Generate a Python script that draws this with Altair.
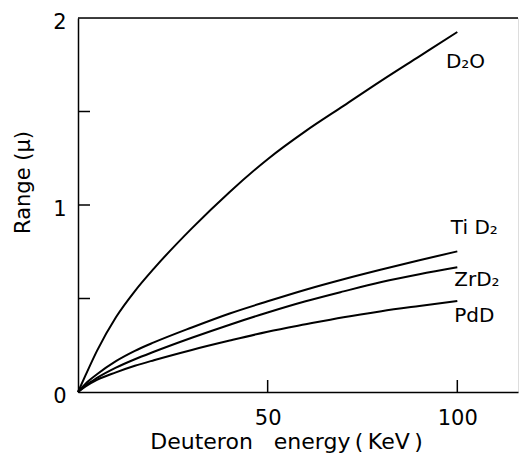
import altair as alt
import pandas as pd

energy = [0, 2, 5, 10, 15, 20, 30, 40, 50, 60, 70, 80, 90, 100]
d2o  = [0, 0.09, 0.22, 0.40, 0.54, 0.66, 0.875, 1.07, 1.245, 1.395, 1.53, 1.665, 1.795, 1.925]
tid2 = [0, 0.045, 0.095, 0.165, 0.22, 0.265, 0.345, 0.42, 0.485, 0.547, 0.603, 0.655, 0.705, 0.752]
zrd2 = [0, 0.035, 0.075, 0.13, 0.175, 0.215, 0.29, 0.36, 0.425, 0.485, 0.538, 0.588, 0.63, 0.667]
pdd  = [0, 0.03, 0.065, 0.105, 0.14, 0.17, 0.225, 0.275, 0.322, 0.362, 0.40, 0.432, 0.46, 0.487]

series_names = ["D2O", "TiD2", "ZrD2", "PdD"]
label_text = ["D\u2082O", "Ti D\u2082", "ZrD\u2082", "PdD"]
label_x = [97, 98.3, 99.2, 99.2]
label_y = [1.765, 0.877, 0.60, 0.406]

y_labels = [0, 1, 2]
y_label_text = ["0", "1", "2"]
y_ticks = [0.5, 1.0, 1.5]
x_ticks = [50, 100]

W, H = 440, 374
FONT = "DejaVu Sans"

rows = []
for name, vals in zip(series_names, [d2o, tid2, zrd2, pdd]):
    for e, v in zip(energy, vals):
        rows.append({"series": name, "energy": e, "range": v})
df = pd.DataFrame(rows)
labels_df = pd.DataFrame({"text": label_text, "x": label_x, "y": label_y})
yl_df = pd.DataFrame({"y": y_labels, "t": y_label_text})
yt_df = pd.DataFrame({"y": y_ticks})
xt_df = pd.DataFrame({"x": x_ticks})

xscale = alt.Scale(domain=[0, 116], nice=False, zero=True)
yscale = alt.Scale(domain=[0, 2], nice=False)

xaxis = alt.Axis(values=x_ticks, ticks=False, grid=False, domainColor="black",
                 domainWidth=1.5, labelFont=FONT, labelFontSize=21, labelColor="black",
                 labelPadding=15, labelBaseline="top", labelOverlap=False,
                 title="Deuteron\u00a0\u00a0\u00a0energy\u2009(\u2009KeV\u2009)",
                 titleFont=FONT, titleFontSize=22,
                 titleFontWeight="normal", titleColor="black", titleX=208, titleY=56,
                 titleAlign="center", titleBaseline="alphabetic")
yaxis = alt.Axis(values=y_labels, ticks=False, grid=False, domainColor="black",
                 domainWidth=1.5, labels=False,
                 title="Range (\u03bc)", titleFont=FONT, titleFontSize=21,
                 titleFontWeight="normal", titleColor="black", titleAngle=270,
                 titleX=-55, titleY=164, titleAlign="center", titleBaseline="middle")

lines = alt.Chart(df).mark_line(color="black", strokeWidth=2, interpolate="monotone").encode(
    x=alt.X("energy:Q", scale=xscale, axis=xaxis),
    y=alt.Y("range:Q", scale=yscale, axis=yaxis),
    detail="series:N",
)

texts = alt.Chart(labels_df).mark_text(font=FONT, fontSize=20, align="left",
                                       baseline="middle", color="black").encode(
    x=alt.X("x:Q", scale=xscale, axis=None), y=alt.Y("y:Q", scale=yscale, axis=None),
    text="text:N")

ylab = alt.Chart(yl_df).mark_text(font=FONT, fontSize=21, align="center",
                                  baseline="middle", color="black", dy=5).encode(
    y=alt.Y("y:Q", scale=yscale, axis=None), x=alt.value(-18), text="t:N")

top_line = alt.Chart(pd.DataFrame({"y": [2]})).mark_rule(color="black", strokeWidth=1.5).encode(
    y=alt.Y("y:Q", scale=yscale, axis=None), x=alt.value(0), x2=alt.value(W))

ytick_marks = alt.Chart(yt_df).mark_rule(color="black", strokeWidth=1.5).encode(
    y=alt.Y("y:Q", scale=yscale, axis=None), x=alt.value(0), x2=alt.value(12))

xtick_marks = alt.Chart(xt_df).mark_rule(color="black", strokeWidth=1.5).encode(
    x=alt.X("x:Q", scale=xscale, axis=None), y=alt.value(H), y2=alt.value(H - 12))

chart = alt.layer(lines, texts, ylab, top_line, ytick_marks, xtick_marks).resolve_axis(
    x="independent", y="independent"
).properties(
    width=W, height=H,
    autosize=alt.AutoSizeParams(type="none"),
    padding={"left": 70, "top": 10, "right": 2, "bottom": 61},
).configure_view(stroke=None).configure(background="white")

chart.save("out.html", embed_options={"renderer": "svg", "actions": False})
